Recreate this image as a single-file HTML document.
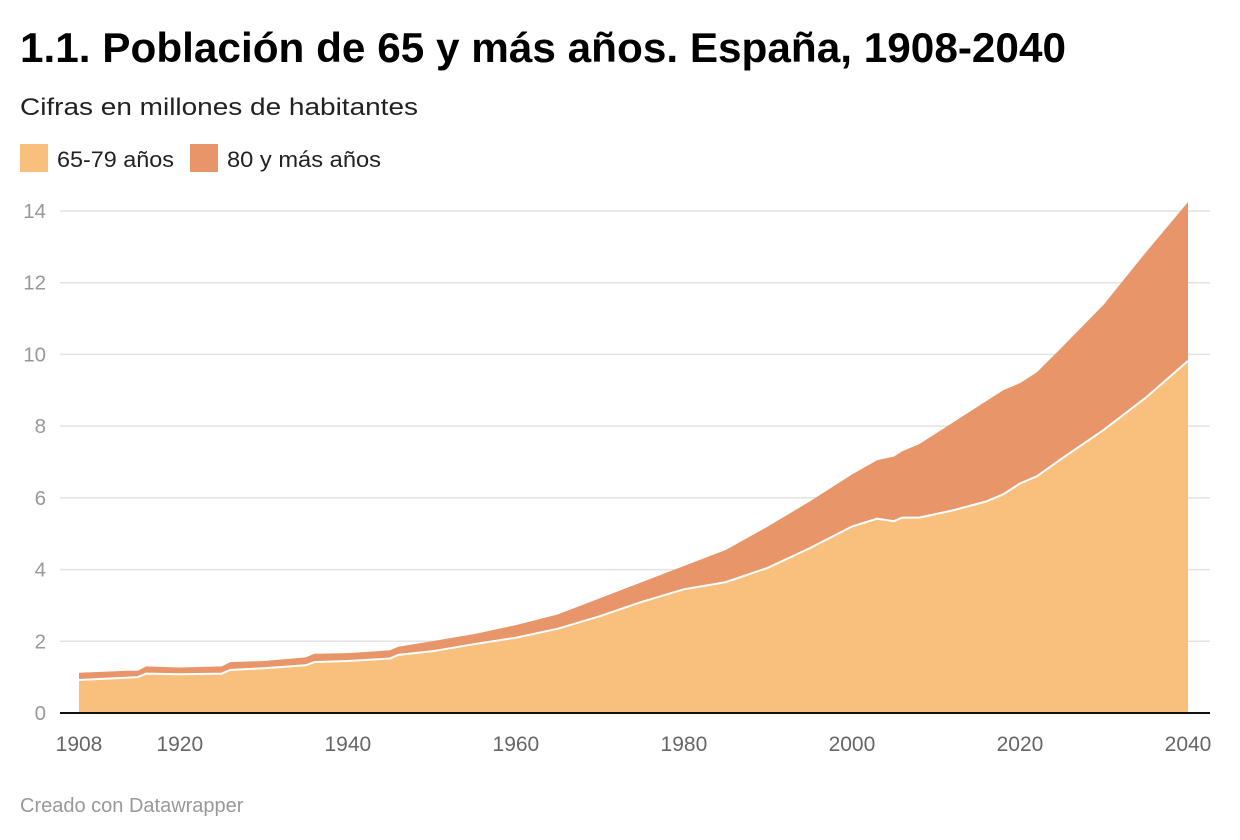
<!DOCTYPE html>
<html><head><meta charset="utf-8"><style>
html,body{margin:0;padding:0;background:#fff;}
svg{display:block;font-family:"Liberation Sans",Arial,sans-serif;}
</style></head><body>
<svg id="chart" width="1240" height="840" viewBox="0 0 1240 840">
<text x="20" y="62" font-size="42" font-weight="bold" fill="#000" textLength="1046" lengthAdjust="spacingAndGlyphs">1.1. Población de 65 y más años. España, 1908-2040</text>
<text x="20" y="115" font-size="24" fill="#222" textLength="398" lengthAdjust="spacingAndGlyphs">Cifras en millones de habitantes</text>
<g>
<rect x="20" y="144" width="28" height="28" fill="#f8c07c"/>
<text x="57" y="167" font-size="22" fill="#222" textLength="117" lengthAdjust="spacingAndGlyphs">65-79 años</text>
<rect x="190" y="144" width="28" height="28" fill="#e8956a"/>
<text x="227" y="167" font-size="22" fill="#222" textLength="154" lengthAdjust="spacingAndGlyphs">80 y más años</text>
</g>
<g id="grid"></g>
<g id="areas"></g>
<g id="axes"></g>
<text x="20" y="812" font-size="20" fill="#999">Creado con Datawrapper</text>
</svg>
<script>
const years = [1908,1914,1915,1916,1920,1925,1926,1930,1935,1936,1940,1945,1946,1950,1955,1960,1965,1970,1975,1980,1985,1990,1995,2000,2003,2005,2006,2008,2012,2016,2018,2020,2022,2025,2030,2035,2040];
const age6579 = [0.92,0.99,1.0,1.1,1.08,1.1,1.2,1.25,1.33,1.42,1.45,1.52,1.62,1.72,1.92,2.1,2.35,2.7,3.1,3.45,3.65,4.05,4.6,5.2,5.42,5.35,5.45,5.45,5.65,5.9,6.1,6.4,6.6,7.1,7.9,8.8,9.82];
const age80 = [0.2,0.19,0.18,0.2,0.19,0.2,0.22,0.2,0.22,0.23,0.22,0.23,0.23,0.28,0.28,0.35,0.4,0.5,0.55,0.65,0.9,1.15,1.3,1.45,1.63,1.8,1.85,2.05,2.45,2.8,2.9,2.8,2.9,3.1,3.5,4.05,4.43];
const yTicks = [0,2,4,6,8,10,12,14];
const xTicks = [1908,1920,1940,1960,1980,2000,2020,2040];

const NS='http://www.w3.org/2000/svg';
const X=y=>79+(y-1908)*(1188-79)/132;
const Y=v=>713-v*(713-211)/14;
function mk(tag,attrs,parent){const e=document.createElementNS(NS,tag);for(const k in attrs)e.setAttribute(k,attrs[k]);parent.appendChild(e);return e;}
const grid=document.getElementById('grid'),areas=document.getElementById('areas'),axes=document.getElementById('axes');
yTicks.forEach(t=>{
  if(t>0){const l=mk('line',{x1:60,x2:1210,y1:Y(t),y2:Y(t),stroke:'#e3e3e3','stroke-width':1.5},grid);
  
  }
  const tx=mk('text',{x:46,y:Y(t)+7,'font-size':20.5,fill:'#999','text-anchor':'end'},axes);
  tx.textContent=t;
  
  
});
const lowerPts=years.map((y,i)=>[X(y),Y(age6579[i])]);
const upperPts=years.map((y,i)=>[X(y),Y(age6579[i]+age80[i])]);
const pstr=p=>p.map(q=>q[0].toFixed(1)+','+q[1].toFixed(1)).join(' ');
const base0=[[X(years[years.length-1]),Y(0)],[X(years[0]),Y(0)]];
const a2=mk('polygon',{points:pstr(upperPts.concat(lowerPts.slice().reverse())),fill:'#e8956a'},areas);


const a1=mk('polygon',{points:pstr(lowerPts.concat(base0)),fill:'#f8c07c'},areas);


const sep=mk('polyline',{points:pstr(lowerPts),fill:'none',stroke:'#fff','stroke-width':2},areas);


const ax=mk('line',{x1:60,x2:1210,y1:Y(0),y2:Y(0),stroke:'#111','stroke-width':2},axes);


xTicks.forEach(t=>{
  const tx=mk('text',{x:X(t),y:751,'font-size':21,fill:'#666','text-anchor':'middle'},axes);
  tx.textContent=t;
  
  
});
</script>
</body></html>
